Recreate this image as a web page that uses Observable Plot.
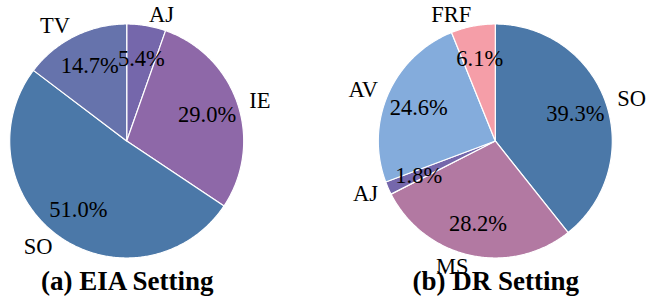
<!DOCTYPE html>
<html>
<head>
<meta charset="utf-8">
<script src="https://cdn.jsdelivr.net/npm/d3@7"></script>
<script src="https://cdn.jsdelivr.net/npm/@observablehq/plot@0.6"></script>
<style>
  html, body { margin: 0; padding: 0; background: #fff; }
  #chart svg, #chart svg text { font-family: "Liberation Serif", "Times New Roman", Times, serif !important; }
</style>
</head>
<body>
<div id="chart"></div>
<script>
// Panels (facet titles)
const panels = ["(a) EIA Setting", "(b) DR Setting"];

// Panel (a): EIA Setting, clockwise from 12 o'clock
const eiaLabels = ["AJ", "IE", "SO", "TV"];
const eiaValues = [5.4, 29.0, 51.0, 14.7];

// Panel (b): DR Setting, clockwise from 12 o'clock
const drLabels = ["SO", "MS", "AJ", "AV", "FRF"];
const drValues = [39.3, 28.2, 1.8, 24.6, 6.1];

// Category colours
const categories = ["SO", "AJ", "IE", "TV", "MS", "AV", "FRF"];
const colors = ["#4b78a8", "#7567ab", "#8e68a8", "#6673ac", "#b279a2", "#84acdc", "#f59ea8"];

const pie = d3.pie().sort(null).value(d => d.value);

function buildPanel(panel, labels, values) {
  const rows = labels.map((label, i) => ({panel, label, value: values[i]}));
  return pie(rows).map(a => ({...a.data, start: a.startAngle, end: a.endAngle, mid: (a.startAngle + a.endAngle) / 2}));
}

const wedges = [
  ...buildPanel(panels[0], eiaLabels, eiaValues),
  ...buildPanel(panels[1], drLabels, drValues)
];

// arc outline points for each wedge (geometry derived from the pie layout)
const arcPts = wedges.flatMap(w => {
  const n = Math.max(4, Math.ceil((w.end - w.start) / 0.01));
  return d3.range(n + 1).map(k => {
    const a = w.start + (w.end - w.start) * k / n;
    return {panel: w.panel, label: w.label, key: w.panel + w.label, x: Math.sin(a), y: Math.cos(a)};
  });
});

const pctDist = 0.72, labDist = 1.1;
const pctPts = wedges.map(w => ({...w, x: pctDist * Math.sin(w.mid), y: pctDist * Math.cos(w.mid), text: w.value.toFixed(1) + "%"}));
const labPts = wedges.map(w => ({...w, x: labDist * Math.sin(w.mid), y: labDist * Math.cos(w.mid)}));

const serif = "Liberation Serif";

const chart = Plot.plot({
  width: 646,
  height: 302,
  marginTop: 0,
  marginBottom: 0,
  marginLeft: 0,
  marginRight: 24,
  style: {background: "white"},
  fx: {domain: panels, paddingInner: 0.3125, paddingOuter: 0, round: false, axis: null},
  x: {domain: [-1.083, 1.083], axis: null},
  y: {domain: [-1.376, 1.205], axis: null},
  color: {domain: categories, range: colors},
  marks: [
    Plot.area(arcPts, {
      fx: "panel", x1: 0, y1: 0, x2: "x", y2: "y", z: "key",
      fill: "label", stroke: "white", strokeWidth: 1.2, curve: "linear"
    }),
    Plot.text(pctPts, {
      fx: "panel", x: "x", y: "y", text: "text",
      fontSize: 22.5, fill: "black", fontFamily: serif
    }),
    Plot.text(labPts.filter(d => d.x > 0), {
      fx: "panel", x: "x", y: "y", text: "label", textAnchor: "start",
      fontSize: 22.5, fill: "black", fontFamily: serif
    }),
    Plot.text(labPts.filter(d => d.x <= 0), {
      fx: "panel", x: "x", y: "y", text: "label", textAnchor: "end",
      fontSize: 22.5, fill: "black", fontFamily: serif
    }),
    Plot.text(panels, {
      fx: d => d, text: d => d, frameAnchor: "bottom", lineAnchor: "bottom", dy: -13,
      fontSize: 27, fontWeight: "bold", fill: "black", fontFamily: serif
    })
  ]
});

document.getElementById("chart").appendChild(chart);
</script>
</body>
</html>
